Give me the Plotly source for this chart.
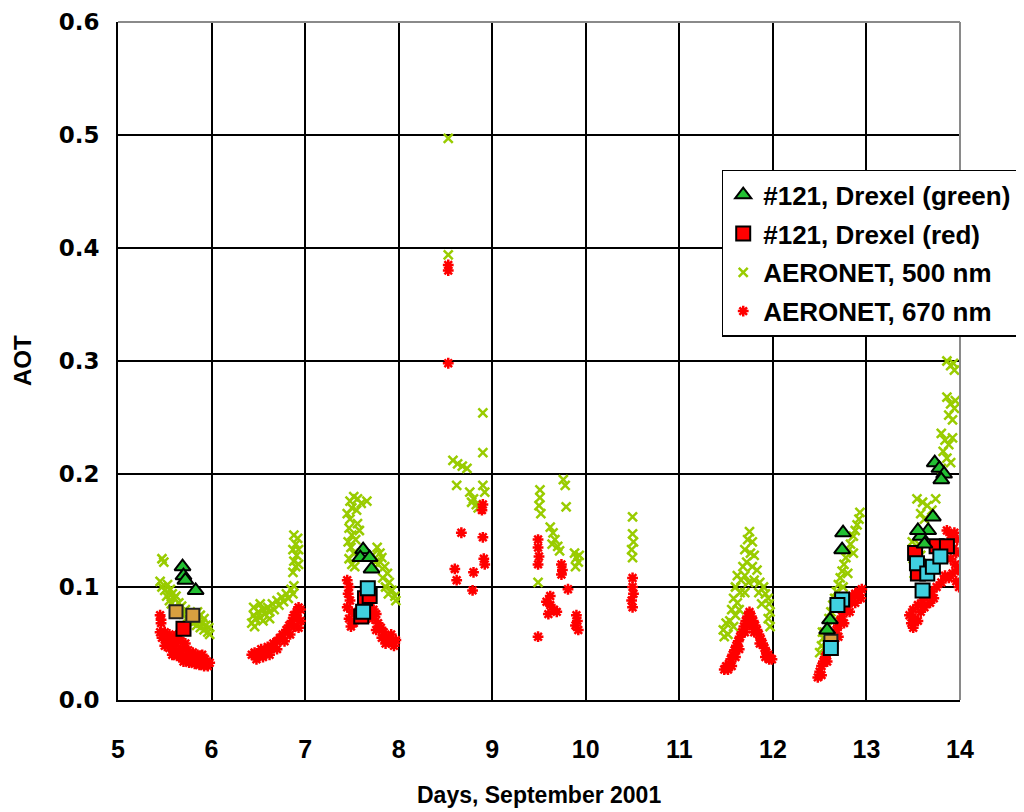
import plotly.graph_objects as go

# ---------------- data (days of September 2001, AOT) ----------------
aeronet500_day = [
    5.47, 5.49, 5.45, 5.47, 5.50, 5.53, 5.56, 5.58, 5.60, 5.62, 5.52, 5.55,
    5.57, 5.60, 5.63, 5.66, 5.70, 5.73, 5.76, 5.80, 5.84, 5.88, 5.92, 5.96, 5.98,
    5.65, 5.68, 5.72, 5.78, 5.82, 5.86, 5.90, 5.94, 5.97, 5.85, 5.88, 5.92,
    6.43, 6.45, 6.47, 6.50, 6.52, 6.55, 6.57, 6.60, 6.62, 6.65, 6.67, 6.70, 6.72,
    6.75, 6.77, 6.80, 6.82, 6.85, 6.87, 6.88, 6.46, 6.55, 6.62, 6.45, 6.52,
    6.87, 6.90, 6.88, 6.91, 6.87, 6.90, 6.92, 6.88, 6.93, 6.93,
    7.48, 7.52, 7.56, 7.60, 7.66, 7.50, 7.55,
    7.45, 7.48, 7.47, 7.50, 7.46, 7.49, 7.52, 7.47, 7.50, 7.53, 7.56, 7.58, 7.54,
    7.77, 7.80, 7.82, 7.78, 7.85, 7.88, 7.83, 7.90, 7.86, 7.93, 7.96, 7.89, 7.97, 7.72, 7.75,
    8.53, 8.53, 8.90, 8.90, 8.58, 8.63, 8.68, 8.73, 8.62, 8.90, 8.92, 8.76, 8.80, 8.83, 8.85, 8.78,
    9.76, 9.78, 9.79, 9.51, 9.51, 9.50, 9.52, 9.62, 9.65, 9.67, 9.70, 9.72, 9.64,
    9.88, 9.90, 9.92, 9.89, 9.93, 9.49,
    10.50, 10.50, 10.51, 10.49, 10.50,
    11.75, 11.73, 11.78, 11.70, 11.76, 11.80, 11.72, 11.68, 11.78, 11.83,
    11.62, 11.66, 11.70, 11.74, 11.80, 11.86, 11.90, 11.60, 11.65, 11.92, 11.95, 11.58,
    11.62, 11.96, 11.97, 11.56, 11.60, 11.95, 11.97, 11.54, 11.58, 11.50, 11.47, 11.48,
    11.52, 11.70, 11.85, 11.88, 11.64,
    12.50, 12.52, 12.54, 12.55, 12.58, 12.60, 12.62, 12.64, 12.66, 12.68, 12.70, 12.72,
    12.74, 12.76, 12.78, 12.80, 12.83, 12.86, 12.88, 12.90, 12.92, 12.93,
    12.53, 12.57, 12.60, 12.65, 12.70, 12.75, 12.80, 12.86,
    13.86, 13.90, 13.94, 13.93, 13.86, 13.90, 13.94, 13.88, 13.92, 13.95,
    13.80, 13.84, 13.88, 13.82, 13.86, 13.90, 13.80, 13.92,
    13.54, 13.60, 13.65, 13.70, 13.58, 13.62, 13.74,
    13.49, 13.52, 13.50, 13.54, 13.51, 13.56, 13.58,
]
aeronet500_aot = [
    0.125, 0.122, 0.105, 0.100, 0.097, 0.102, 0.098, 0.094, 0.090, 0.092, 0.092, 0.088,
    0.085, 0.082, 0.080, 0.078, 0.076, 0.072, 0.070, 0.068, 0.066, 0.064, 0.062, 0.060, 0.058,
    0.086, 0.083, 0.080, 0.076, 0.072, 0.070, 0.068, 0.066, 0.064, 0.078, 0.075, 0.072,
    0.068, 0.075, 0.072, 0.078, 0.073, 0.080, 0.076, 0.082, 0.078, 0.085, 0.080, 0.088, 0.084,
    0.091, 0.087, 0.094, 0.090, 0.098, 0.094, 0.101, 0.065, 0.070, 0.072, 0.082, 0.085,
    0.113, 0.118, 0.123, 0.128, 0.133, 0.138, 0.143, 0.146, 0.120, 0.133,
    0.176, 0.180, 0.178, 0.174, 0.176, 0.170, 0.168,
    0.165, 0.160, 0.152, 0.146, 0.140, 0.135, 0.130, 0.125, 0.120, 0.118, 0.156, 0.150, 0.142,
    0.135, 0.130, 0.126, 0.120, 0.118, 0.112, 0.108, 0.104, 0.100, 0.097, 0.092, 0.094, 0.088, 0.128, 0.122,
    0.497, 0.394, 0.254, 0.219, 0.212, 0.209, 0.207, 0.205, 0.190, 0.190, 0.184, 0.184, 0.178, 0.173, 0.170, 0.175,
    0.195, 0.190, 0.171, 0.186, 0.179, 0.172, 0.165, 0.153, 0.148, 0.142, 0.136, 0.132, 0.138,
    0.130, 0.126, 0.122, 0.118, 0.128, 0.104,
    0.162, 0.147, 0.140, 0.133, 0.126,
    0.149, 0.142, 0.140, 0.133, 0.130, 0.128, 0.122, 0.118, 0.118, 0.115,
    0.110, 0.106, 0.110, 0.104, 0.106, 0.104, 0.100, 0.100, 0.095, 0.094, 0.090, 0.090,
    0.086, 0.085, 0.078, 0.080, 0.075, 0.072, 0.065, 0.070, 0.065, 0.068, 0.062, 0.056,
    0.058, 0.095, 0.095, 0.085, 0.080,
    0.042, 0.048, 0.055, 0.060, 0.066, 0.072, 0.078, 0.084, 0.090, 0.096, 0.102, 0.108,
    0.114, 0.120, 0.126, 0.132, 0.138, 0.145, 0.150, 0.155, 0.160, 0.166,
    0.060, 0.050, 0.058, 0.070, 0.088, 0.100, 0.112, 0.130,
    0.300, 0.296, 0.292, 0.298, 0.268, 0.262, 0.258, 0.252, 0.248, 0.265,
    0.236, 0.230, 0.226, 0.220, 0.214, 0.210, 0.205, 0.232,
    0.178, 0.175, 0.172, 0.168, 0.165, 0.160, 0.178,
    0.140, 0.132, 0.125, 0.118, 0.112, 0.138, 0.128,
]

aeronet670_day = [
    5.45, 5.46, 5.46,
    5.45, 5.50, 5.55, 5.60, 5.65, 5.47, 5.52, 5.57, 5.62, 5.67, 5.72, 5.50, 5.55, 5.60,
    5.65, 5.70, 5.75, 5.80, 5.58, 5.63, 5.68, 5.73, 5.78, 5.83, 5.88, 5.70, 5.76, 5.82,
    5.87, 5.92, 5.96, 5.98, 5.93, 5.85, 5.90,
    6.43, 6.46, 6.50, 6.53, 6.56, 6.60, 6.63, 6.66, 6.70, 6.73, 6.76, 6.80, 6.83, 6.86,
    6.88, 6.91, 6.93, 6.95, 6.92, 6.88, 6.84, 6.78, 6.70, 6.62, 6.48, 6.55, 6.95, 6.93,
    7.45, 7.47, 7.46, 7.48, 7.45, 7.50, 7.47, 7.52, 7.49, 7.55,
    7.70, 7.73, 7.76, 7.72, 7.78, 7.81, 7.76, 7.84, 7.87, 7.82, 7.90, 7.93, 7.86, 7.95,
    7.97, 7.92, 7.68,
    8.53, 8.53, 8.53, 8.90, 8.67, 8.90, 8.92, 8.80, 8.60, 8.62, 8.79, 8.89, 8.91,
    9.49, 9.49, 9.50, 9.49, 9.74, 9.75, 9.74, 9.81, 9.58, 9.62, 9.66, 9.69, 9.60, 9.62,
    9.90, 9.91, 9.89, 9.92, 9.49,
    10.50, 10.50, 10.51, 10.49, 10.50,
    11.75, 11.73, 11.77, 11.71, 11.79, 11.69, 11.81, 11.67, 11.83, 11.65, 11.85, 11.63,
    11.87, 11.61, 11.89, 11.59, 11.91, 11.57, 11.93, 11.55, 11.95, 11.53, 11.97, 11.50,
    11.99, 11.48, 11.52, 11.56, 11.60, 11.64, 11.70, 11.75, 11.80, 11.86, 11.92, 11.96,
    12.48, 12.50, 12.52, 12.54, 12.56, 12.58, 12.60, 12.62, 12.64, 12.66, 12.68, 12.70,
    12.72, 12.74, 12.76, 12.78, 12.80, 12.82, 12.85, 12.88, 12.92, 12.95,
    12.52, 12.58, 12.64, 12.70, 12.76, 12.82, 12.88, 12.94,
    13.86, 13.90, 13.94, 13.97, 13.88, 13.93, 13.96, 13.90, 13.95, 13.98, 13.92, 13.96,
    13.99, 13.88, 13.75, 13.70, 13.65, 13.60, 13.55, 13.50, 13.46, 13.48, 13.52, 13.58,
    13.62, 13.68, 13.72, 13.50, 13.55, 13.80, 13.84,
]
aeronet670_aot = [
    0.075, 0.068, 0.071,
    0.060, 0.060, 0.058, 0.056, 0.058, 0.055, 0.054, 0.052, 0.050, 0.052, 0.050, 0.048, 0.046, 0.045,
    0.044, 0.045, 0.044, 0.042, 0.040, 0.039, 0.038, 0.039, 0.038, 0.037, 0.036, 0.034, 0.033, 0.032,
    0.031, 0.030, 0.030, 0.033, 0.036, 0.040, 0.040,
    0.040, 0.042, 0.040, 0.045, 0.043, 0.047, 0.045, 0.050, 0.052, 0.055, 0.058, 0.062, 0.066, 0.070,
    0.075, 0.078, 0.082, 0.080, 0.072, 0.065, 0.058, 0.052, 0.045, 0.040, 0.036, 0.038, 0.070, 0.064,
    0.106, 0.100, 0.094, 0.088, 0.082, 0.078, 0.072, 0.068, 0.065, 0.072,
    0.086, 0.080, 0.076, 0.072, 0.068, 0.064, 0.062, 0.060, 0.056, 0.055, 0.052, 0.050, 0.050, 0.048,
    0.053, 0.058, 0.078,
    0.385, 0.380, 0.298, 0.173, 0.148, 0.144, 0.120, 0.113, 0.116, 0.106, 0.097, 0.168, 0.125,
    0.142, 0.135, 0.127, 0.120, 0.120, 0.115, 0.111, 0.098, 0.087, 0.084, 0.080, 0.078, 0.076, 0.092,
    0.075, 0.070, 0.066, 0.062, 0.056,
    0.108, 0.100, 0.094, 0.088, 0.082,
    0.078, 0.074, 0.074, 0.070, 0.070, 0.065, 0.066, 0.060, 0.062, 0.056, 0.058, 0.052,
    0.054, 0.048, 0.050, 0.044, 0.046, 0.040, 0.042, 0.036, 0.040, 0.032, 0.037, 0.030,
    0.036, 0.027, 0.027, 0.030, 0.038, 0.045, 0.060, 0.066, 0.060, 0.050, 0.038, 0.036,
    0.020, 0.025, 0.030, 0.034, 0.038, 0.042, 0.046, 0.050, 0.054, 0.058, 0.062, 0.066,
    0.070, 0.074, 0.078, 0.082, 0.085, 0.088, 0.092, 0.094, 0.096, 0.098,
    0.022, 0.034, 0.045, 0.056, 0.068, 0.078, 0.086, 0.090,
    0.150, 0.146, 0.148, 0.142, 0.138, 0.134, 0.130, 0.125, 0.120, 0.115, 0.112, 0.105,
    0.100, 0.108, 0.100, 0.096, 0.092, 0.088, 0.084, 0.080, 0.075, 0.068, 0.072, 0.078,
    0.082, 0.086, 0.090, 0.064, 0.070, 0.104, 0.110,
]

drexel_green_day = [5.69, 5.70, 5.72, 5.83, 7.62, 7.59, 7.69, 7.71, 12.75, 12.74, 12.61, 12.58,
                    13.73, 13.78, 13.83, 13.80, 13.71, 13.66, 13.58, 13.62, 13.55]
drexel_green_aot = [0.118, 0.110, 0.106, 0.097, 0.133, 0.126, 0.126, 0.116, 0.148, 0.133, 0.071, 0.062,
                    0.210, 0.205, 0.200, 0.195, 0.162, 0.150, 0.145, 0.138, 0.150]

drexel_red_day = [5.70, 7.64, 7.69, 7.60, 13.75, 13.86, 13.52, 13.55]
drexel_red_aot = [0.063, 0.090, 0.092, 0.074, 0.136, 0.136, 0.130, 0.112]

drexel_cyan_day = [7.67, 7.62, 12.74, 12.69, 12.62, 13.54, 13.65, 13.60, 13.71, 13.79]
drexel_cyan_aot = [0.099, 0.078, 0.089, 0.084, 0.046, 0.121, 0.112, 0.097, 0.118, 0.127]

drexel_orange_day = [5.62, 5.80, 12.62]
drexel_orange_aot = [0.078, 0.075, 0.052]

x_ticks = [5, 6, 7, 8, 9, 10, 11, 12, 13, 14]
y_ticks = [0.0, 0.1, 0.2, 0.3, 0.4, 0.5, 0.6]
y_tick_text = ["0.0", "0.1", "0.2", "0.3", "0.4", "0.5", "0.6"]

# ---------------- figure ----------------
FONT = "Liberation Sans, Arial, sans-serif"
fig = go.Figure()

fig.add_trace(go.Scatter(
    x=aeronet500_day, y=aeronet500_aot, mode="markers", name="AERONET, 500 nm",
    legendrank=3, legendgroup="c",
    marker=dict(symbol="x-thin-open", size=9, color="#99cc00", line=dict(width=2.5, color="#99cc00")),
))
fig.add_trace(go.Scatter(
    x=aeronet670_day, y=aeronet670_aot, mode="markers", name="AERONET, 670 nm",
    legendrank=4, legendgroup="d",
    marker=dict(symbol="asterisk-open", size=9, color="#ff0000", line=dict(width=2.5, color="#ff0000")),
))
fig.add_trace(go.Scatter(
    x=drexel_red_day, y=drexel_red_aot, mode="markers", name="#121, Drexel (red)",
    legendrank=2, legendgroup="b",
    marker=dict(symbol="square", size=14, color="#ff0000", line=dict(width=2, color="#000000")),
))
fig.add_trace(go.Scatter(
    x=drexel_orange_day, y=drexel_orange_aot, mode="markers", showlegend=False,
    marker=dict(symbol="square", size=13, color="#d9a040", line=dict(width=2, color="#222222")),
))
fig.add_trace(go.Scatter(
    x=drexel_cyan_day, y=drexel_cyan_aot, mode="markers", showlegend=False,
    marker=dict(symbol="square", size=14, color="#40d0e0", line=dict(width=2, color="#000000")),
))
fig.add_trace(go.Scatter(
    x=drexel_green_day, y=drexel_green_aot, mode="markers", name="#121, Drexel (green)",
    legendrank=1, legendgroup="a",
    marker=dict(symbol="triangle-up", size=14, color="#22c032", line=dict(width=2, color="#000000")),
))

# the page body adds an 8px offset, so margins are shifted by 8px
fig.update_layout(
    width=1024, height=812,
    margin=dict(l=110, r=72, t=14, b=120, autoexpand=False),
    paper_bgcolor="white", plot_bgcolor="white",
    font=dict(family=FONT, color="black"),
    showlegend=True,
    legend=dict(
        x=0.717, y=0.782, xanchor="left", yanchor="top",
        bgcolor="white", bordercolor="black", borderwidth=1.5,
        font=dict(family=FONT, size=26, weight="bold", color="black"),
        tracegroupgap=2, itemsizing="trace",
    ),
    xaxis=dict(
        range=[5, 14], tickvals=x_ticks, ticktext=[str(v) for v in x_ticks],
        showgrid=True, gridcolor="black", gridwidth=2,
        showline=True, linecolor="black", linewidth=2,
        zeroline=False, ticks="", ticklabelstandoff=26,
        tickfont=dict(family=FONT, size=25, weight="bold", color="black"),
    ),
    yaxis=dict(
        range=[0, 0.6], tickvals=y_ticks, ticktext=y_tick_text,
        showgrid=True, gridcolor="black", gridwidth=2,
        showline=True, linecolor="black", linewidth=2,
        zeroline=False, ticks="", ticklabelstandoff=12,
        tickfont=dict(family="DejaVu Sans, sans-serif", size=23, weight="bold", color="black"),
    ),
    shapes=[
        dict(type="line", xref="paper", yref="paper", x0=0, x1=1, y0=1, y1=1,
             line=dict(color="#8a8a8a", width=2), layer="above"),
        dict(type="line", xref="paper", yref="paper", x0=1, x1=1, y0=0, y1=1,
             line=dict(color="#8a8a8a", width=2), layer="above"),
    ],
    annotations=[
        dict(text="Days, September 2001", xref="paper", yref="paper", x=0.5, y=-0.14,
             xanchor="center", yanchor="middle", showarrow=False,
             font=dict(family=FONT, size=23, weight="bold", color="black")),
        dict(text="AOT", xref="paper", yref="paper", x=-0.114, y=0.5, textangle=-90,
             xanchor="center", yanchor="middle", showarrow=False,
             font=dict(family=FONT, size=24, weight="bold", color="black")),
    ],
)

fig.write_html("out.html")
